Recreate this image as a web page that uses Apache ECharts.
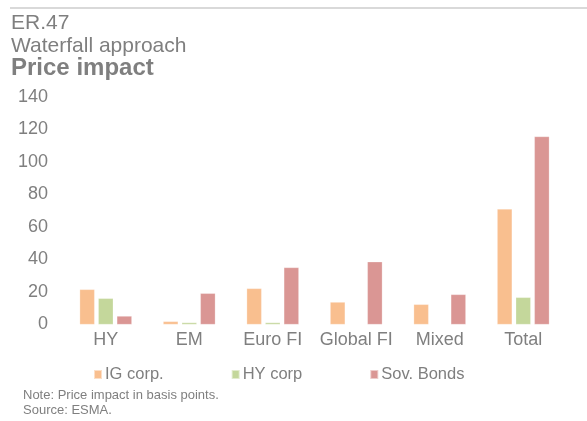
<!DOCTYPE html>
<html>
<head>
<meta charset="utf-8">
<script src="https://cdn.jsdelivr.net/npm/echarts@6/dist/echarts.min.js"></script>
<style>
html,body{margin:0;padding:0;background:#fff;}
#chart{width:587px;height:421px;}
</style>
</head>
<body>
<div id="chart"></div>
<script>
const categories = ['HY', 'EM', 'Euro FI', 'Global FI', 'Mixed', 'Total'];
const seriesNames = ['IG corp.', 'HY corp', 'Sov. Bonds'];
const igCorp = [21.6, 1.9, 22.2, 13.8, 12.4, 71.1];
const hyCorp = [16.1, 1.2, 1.2, 0, 0, 16.7];
const sovBonds = [5.2, 19.2, 35.1, 38.6, 18.5, 115.7];
const yTicks = { min: 0, max: 140, interval: 20 };
const titleLines = ['ER.47', 'Waterfall approach', 'Price impact'];
const noteLines = ['Note: Price impact in basis points.', 'Source: ESMA.'];

const colors = ['#F9BF8F', '#C4D79B', '#DA9694'];
const textColor = '#7f7f7f';
const font = 'Liberation Sans, Arial, sans-serif';

const chart = echarts.init(document.getElementById('chart'), null, { renderer: 'canvas' });
const dataSets = [igCorp, hyCorp, sovBonds];

chart.setOption({
  animation: false,
  backgroundColor: '#fff',
  textStyle: { fontFamily: font, color: textColor },
  graphic: [
    { type: 'line', shape: { x1: 10, y1: 8, x2: 587, y2: 8 }, style: { stroke: '#d9d9d9', lineWidth: 2 } },
    { type: 'text', x: 11, y: 23, style: { text: titleLines[0], font: '21px ' + font, fill: textColor, verticalAlign: 'middle' } },
    { type: 'text', x: 11, y: 46, style: { text: titleLines[1], font: '21px ' + font, fill: textColor, verticalAlign: 'middle' } },
    { type: 'text', x: 11, y: 68, style: { text: titleLines[2], font: 'bold 24px ' + font, fill: textColor, verticalAlign: 'middle' } },
    { type: 'text', x: 23, y: 395, style: { text: noteLines[0], font: '13px ' + font, fill: textColor, verticalAlign: 'middle' } },
    { type: 'text', x: 23, y: 410, style: { text: noteLines[1], font: '13px ' + font, fill: textColor, verticalAlign: 'middle' } }
  ],
  legend: {
    left: 93,
    top: 366,
    padding: 0,
    itemWidth: 8,
    itemHeight: 9,
    itemGap: 67,
    icon: 'rect',
    textStyle: { fontSize: 16.5, color: textColor, fontFamily: font, padding: [0, 0, 0, -2] },
    data: seriesNames
  },
  grid: { left: 64, right: 22, top: 97, bottom: 96.5, containLabel: false },
  xAxis: {
    type: 'category',
    data: categories,
    axisLine: { show: false },
    axisTick: { show: false },
    axisLabel: { fontSize: 18, color: textColor, margin: 7, fontFamily: font, interval: 0 }
  },
  yAxis: {
    type: 'value',
    min: yTicks.min,
    max: yTicks.max,
    interval: yTicks.interval,
    splitLine: { show: false },
    axisLine: { show: false },
    axisTick: { show: false },
    axisLabel: { fontSize: 18, color: textColor, margin: 16, fontFamily: font }
  },
  series: seriesNames.map((name, i) => ({
    name: name,
    type: 'bar',
    data: dataSets[i],
    barWidth: 15,
    barGap: '24%',
    itemStyle: { color: colors[i], borderColor: 'rgba(255,255,255,0.5)', borderWidth: 0.5 }
  }))
});
</script>
</body>
</html>
